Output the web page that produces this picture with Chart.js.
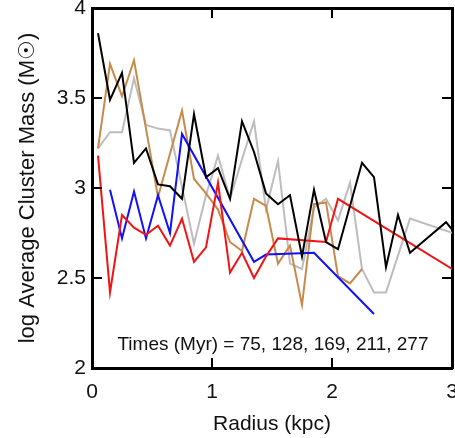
<!DOCTYPE html>
<html><head><meta charset="utf-8">
<script src="https://cdn.jsdelivr.net/npm/chart.js@4/dist/chart.umd.min.js"></script>
<style>html,body{margin:0;padding:0;background:#fff;}canvas{display:block;}</style>
</head><body>
<canvas id="c" width="455" height="438"></canvas>
<script>
// Radius bins (kpc)
const radius = [0.05,0.15,0.25,0.35,0.45,0.55,0.65,0.75,0.85,0.95,1.05,1.15,1.25,1.35,1.45,1.55,1.65,1.75,1.85,1.95,2.05,2.15,2.25,2.35,2.45,2.55,2.65,2.75,2.85,2.95,3.05];
// log average cluster mass per time (null = empty bin)
const massBlack = [3.86,3.49,3.64,3.14,3.22,3.02,3.01,2.94,3.41,3.06,3.11,2.94,3.37,3.20,2.97,2.91,2.96,2.62,2.99,2.70,2.66,null,3.14,3.06,2.56,2.85,2.64,null,null,2.81,2.73];
const massGray = [3.22,3.31,3.31,3.61,3.35,3.33,3.32,null,2.69,2.96,3.18,2.94,3.16,3.37,2.88,3.15,2.58,2.55,2.89,2.94,2.82,3.03,2.55,2.42,2.42,null,2.83,null,null,null,2.74];
const massBrown = [3.22,3.69,3.51,3.71,3.33,2.95,null,3.43,3.05,2.97,2.88,2.70,2.65,2.94,2.90,2.58,2.68,2.35,2.91,2.92,2.51,2.47,2.55];
const massBlue = [null,2.99,2.72,2.98,2.72,2.96,2.75,3.30,null,null,null,null,null,2.59,2.63,null,null,null,2.64,null,null,null,null,2.30];
const massRed = [3.18,2.42,2.85,2.78,2.74,2.79,2.68,2.83,2.59,2.67,3.03,2.53,2.64,2.50,2.62,2.72,null,null,null,2.70,2.94,null,null,null,null,null,null,null,null,null,2.53];
// ticks
const xTicks = [0,1,2,3];
const xTickLabels = ['0','1','2','3'];
const yTicks = [2,2.5,3,3.5,4];
const yTickLabels = ['2','2.5','3','3.5','4'];
const xTitle = 'Radius (kpc)';
const yTitle = 'log Average Cluster Mass (M\u2609)';
const annotationText = 'Times (Myr) = 75, 128, 169, 211, 277';

const FONT = '"Liberation Sans", Arial, sans-serif';
function pts(arr){ return arr.map((v,i)=>({x:radius[i], y:v})).filter(p=>p.y!==null && p.y!==undefined); }
function ds(arr,color){ return {data:pts(arr), borderColor:color, borderWidth:2, pointRadius:0, tension:0, fill:false, spanGaps:true}; }

const annotate = {
  id:'annot',
  afterDraw(chart){
    const ctx = chart.ctx, xs = chart.scales.x, ys = chart.scales.y, a = chart.chartArea;
    ctx.save();
    // inward tick marks on all four sides
    ctx.strokeStyle = '#000'; ctx.lineWidth = 2; ctx.beginPath();
    xTicks.forEach(v=>{ const px = Math.round(xs.getPixelForValue(v));
      ctx.moveTo(px, a.bottom); ctx.lineTo(px, a.bottom-10);
      ctx.moveTo(px, a.top); ctx.lineTo(px, a.top+10); });
    yTicks.forEach(v=>{ const py = Math.round(ys.getPixelForValue(v));
      ctx.moveTo(a.left, py); ctx.lineTo(a.left+10, py);
      ctx.moveTo(a.right, py); ctx.lineTo(a.right-10, py); });
    ctx.stroke();
    ctx.font = '19px ' + FONT;
    ctx.fillStyle = '#111';
    ctx.textAlign = 'center';
    ctx.textBaseline = 'alphabetic';
    ctx.fillText(annotationText, xs.getPixelForValue(1.508), ys.getPixelForValue(2.10));
    ctx.restore();
  }
};

const gridOpts = {display:false, drawTicks:false};
const borderOpts = {display:true, color:'#000', width:3};

new Chart(document.getElementById('c'), {
  type:'line',
  data:{datasets:[
    ds(massBlack,'#000000'),
    ds(massRed,'#f01414'),
    ds(massBlue,'#1010ff'),
    ds(massBrown,'#c68b4c'),
    ds(massGray,'#bdbdbd')
  ]},
  options:{
    responsive:false, devicePixelRatio:1, animation:false,
    layout:{padding:{top:8, right:3, bottom:0, left:0}},
    plugins:{legend:{display:false}, tooltip:{enabled:false}},
    scales:{
      x:{type:'linear', position:'bottom', min:0, max:3, z:1,
        afterBuildTicks(s){ s.ticks = xTicks.map(v=>({value:v})); },
        afterFit(s){ s.height = 70; s.paddingLeft = 0; s.paddingRight = 0; },
        grid:gridOpts, border:borderOpts,
        ticks:{color:'#111', font:{family:FONT, size:21}, padding:12, maxRotation:0,
          callback:(v,i)=>xTickLabels[xTicks.indexOf(v)]},
        title:{display:true, text:xTitle, color:'#111', font:{family:FONT, size:21}, padding:{top:0,bottom:1}}
      },
      x2:{type:'linear', position:'top', min:0, max:3, z:1,
        afterBuildTicks(s){ s.ticks = xTicks.map(v=>({value:v})); },
        afterFit(s){ s.height = 0; s.paddingLeft = 0; s.paddingRight = 0; },
        grid:gridOpts, border:borderOpts, ticks:{display:false}
      },
      y:{type:'linear', position:'left', min:2, max:4, z:1,
        afterBuildTicks(s){ s.ticks = yTicks.map(v=>({value:v})); },
        afterFit(s){ s.width = 92; s.paddingTop = 0; s.paddingBottom = 0; },
        grid:gridOpts, border:borderOpts,
        ticks:{color:'#111', font:{family:FONT, size:21}, padding:6,
          callback:(v)=>yTickLabels[yTicks.indexOf(v)]},
        title:{display:true, text:yTitle, color:'#111', font:{family:FONT, size:22}, padding:{top:15,bottom:0}}
      },
      y2:{type:'linear', position:'right', min:2, max:4, z:1,
        afterBuildTicks(s){ s.ticks = yTicks.map(v=>({value:v})); },
        afterFit(s){ s.width = 0; s.paddingTop = 0; s.paddingBottom = 0; },
        grid:gridOpts, border:borderOpts, ticks:{display:false}
      }
    }
  },
  plugins:[annotate]
});
</script>
</body></html>
